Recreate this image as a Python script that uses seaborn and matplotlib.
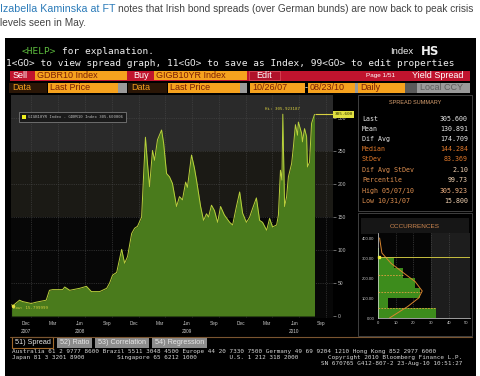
import pandas as pd
import seaborn as sns
import matplotlib.pyplot as plt
from matplotlib.patches import Rectangle
from matplotlib.transforms import blended_transform_factory

# ---- data (GIGB10YR - GDBR10, bp) ----
dates = ["2007-10-26", "2007-10-31", "2007-11-22", "2007-12-02", "2008-01-01", "2008-01-18",
         "2008-02-21", "2008-03-03", "2008-03-14", "2008-04-17", "2008-04-24", "2008-05-11",
         "2008-06-14", "2008-07-07", "2008-07-24", "2008-08-21", "2008-09-14", "2008-09-24",
         "2008-10-04", "2008-10-18", "2008-11-04", "2008-11-14", "2008-11-24", "2008-12-08",
         "2008-12-18", "2008-12-28", "2009-01-11", "2009-01-18", "2009-01-24", "2009-01-31",
         "2009-02-07", "2009-02-17", "2009-02-24", "2009-03-06", "2009-03-20", "2009-03-27",
         "2009-04-06", "2009-04-16", "2009-04-26", "2009-05-10", "2009-05-20", "2009-05-30",
         "2009-06-10", "2009-06-16", "2009-06-30", "2009-07-10", "2009-07-17", "2009-07-31",
         "2009-08-10", "2009-08-20", "2009-08-27", "2009-09-06", "2009-09-16", "2009-09-27",
         "2009-10-07", "2009-10-20", "2009-11-07", "2009-11-17", "2009-11-30", "2009-12-11",
         "2009-12-21", "2010-01-03", "2010-01-14", "2010-01-24", "2010-02-06", "2010-02-17",
         "2010-02-27", "2010-03-13", "2010-03-23", "2010-04-02", "2010-04-16", "2010-04-22",
         "2010-04-29", "2010-05-04", "2010-05-07", "2010-05-13", "2010-05-20", "2010-05-26",
         "2010-06-06", "2010-06-12", "2010-06-19", "2010-06-26", "2010-06-29", "2010-07-10",
         "2010-07-13", "2010-07-20", "2010-07-27", "2010-07-30", "2010-08-06", "2010-08-13",
         "2010-08-23"]
spread = [17, 15.8, 24, 22, 19, 21, 24, 39, 40, 40, 44, 39, 42, 45, 37, 37, 42, 50, 62, 66,
          101, 80, 90, 125, 133, 136, 150, 216, 271, 231, 196, 251, 236, 267, 282, 262, 216,
          211, 201, 166, 181, 176, 203, 195, 244, 224, 206, 166, 145, 155, 150, 168, 160, 142,
          166, 153, 142, 138, 166, 188, 156, 142, 150, 163, 179, 145, 142, 130, 148, 135, 138,
          153, 221, 206, 305.923, 166, 181, 211, 231, 256, 290, 274, 294, 277, 264, 284, 272,
          226, 233, 292, 305.6]

month_ticks = ["2007-12-15", "2008-03-15", "2008-06-15", "2008-09-15", "2008-12-15",
               "2009-03-15", "2009-06-15", "2009-09-15", "2009-12-15", "2010-03-15",
               "2010-06-15", "2010-09-15"]
month_labels = ["Dec\n2007", "Mar", "Jun\n2008", "Sep", "Dec", "Mar", "Jun\n2009", "Sep",
                "Dec", "Mar", "Jun\n2010", "Sep"]

summary_labels = ["Last", "Mean", "Dif Avg", "Median", "StDev", "Dif Avg StDev",
                  "Percentile", "High 05/07/10", "Low 10/31/07"]
summary_values = ["305.600", "130.891", "174.709", "144.284", "83.369", "2.10",
                  "99.73", "305.923", "15.800"]

# occurrences (% of days per 50bp bucket)
bin_edges = [0, 50, 100, 150, 200, 250, 300, 350]
occ_pct = [33, 5.5, 24, 21, 14, 9, 0.6]
# fitted curve as drawn on screen
curve_v = [0, 57, 100, 135, 182, 223, 273, 325, 400]
curve_pct = [6.5, 16.7, 23, 25, 21, 14.8, 7.4, 2.2, 0.9]
mean_bp, sd_bp, last_bp = 130.891, 83.369, 305.6

W, H = 480, 376
sns.set_theme(style="dark")
plt.rcParams["font.family"] = ["Liberation Sans", "DejaVu Sans"]

fig = plt.figure(figsize=(4.8, 3.76), dpi=100)
fig.patch.set_facecolor("white")


def px_axes(x0, y0, x1, y1):
    return fig.add_axes([x0 / W, 1 - y1 / H, (x1 - x0) / W, (y1 - y0) / H])


def pixel_layer():
    a = fig.add_axes([0, 0, 1, 1])
    a.set_xlim(0, W)
    a.set_ylim(H, 0)
    a.axis("off")
    a.patch.set_alpha(0)
    return a


bg = pixel_layer()


def box(a, x0, y0, x1, y1, fc, ec="none", lw=0.6):
    a.add_patch(Rectangle((x0, y0), x1 - x0, y1 - y0, facecolor=fc, edgecolor=ec, lw=lw))


def txt(a, x, y, s, size, color, ha="left", family=None, weight="normal"):
    a.text(x, y, s, fontsize=size, color=color, ha=ha, va="center",
           family=family or ["Liberation Sans", "DejaVu Sans"], weight=weight)


# blog text above the screenshot
txt(bg, 0, 8.5, "Izabella Kaminska at FT", 7.7, "#2b7bb9")
txt(bg, 117.5, 8.5, "notes that Irish bond spreads (over German bunds) are now back to peak crisis",
    7.3, "#444444")
txt(bg, 0, 22.5, "levels seen in May.", 7.3, "#444444")

# terminal
box(bg, 5, 38, 476, 376, "#000000")
mono = ["DejaVu Sans Mono"]
bg.text(22, 51.5, "<HELP>", fontsize=6.8, color="#5fbf3f", va="center", family=mono)
bg.text(62, 51.5, "for explanation.", fontsize=6.8, color="#f0f0f0", va="center", family=mono)
txt(bg, 390, 51.5, "Index", 6.8, "#f0f0f0")
txt(bg, 421, 51.5, "HS", 8.5, "#f0f0f0", family=["DejaVu Sans"], weight="bold")
bg.text(6, 63.5, "1<GO> to view spread graph, 11<GO> to save as Index, 99<GO> to edit properties",
        fontsize=6.8, color="#f0f0f0", va="center", family=mono)

red, amber, dark_txt = "#c0142e", "#f6a21e", "#7a1e05"
box(bg, 10, 70.5, 470, 80.5, red)
txt(bg, 13, 75.5, "Sell", 6.5, "white")
box(bg, 35, 71, 127, 80, amber)
txt(bg, 37, 75.5, "GDBR10 Index", 6.5, dark_txt)
txt(bg, 133, 75.5, "Buy", 6.5, "white")
box(bg, 154, 71, 247, 80, amber)
txt(bg, 156, 75.5, "GIGB10YR Index", 6.5, dark_txt)
box(bg, 249, 71, 280, 80, "#b0122a", ec="#e05060", lw=0.5)
txt(bg, 264.5, 75.5, "Edit", 6.5, "white", ha="center")
txt(bg, 366, 75.5, "Page 1/51", 4.6, "white")
txt(bg, 463, 75.5, "Yield Spread", 6.5, "white", ha="right")

box(bg, 9, 83, 47, 93, "#2a1606")
txt(bg, 12, 88, "Data", 6.5, amber)
box(bg, 48, 83, 118, 93, amber)
txt(bg, 50, 88, "Last Price", 6.5, dark_txt)
box(bg, 118, 83, 127, 93, "#9a9a9a")
box(bg, 128, 83, 167, 93, "#2a1606")
txt(bg, 131, 88, "Data", 6.5, amber)
box(bg, 168, 83, 240, 93, amber)
txt(bg, 170, 88, "Last Price", 6.5, dark_txt)
box(bg, 240, 83, 247, 93, "#9a9a9a")
box(bg, 250, 83, 305, 93, amber)
txt(bg, 252, 88, "10/26/07", 6.5, dark_txt)
txt(bg, 306.5, 88, "-", 6.5, "white", ha="center")
box(bg, 308, 83, 355, 93, amber)
txt(bg, 310, 88, "08/23/10", 6.5, dark_txt)
box(bg, 355, 83, 358, 93, "#9a9a9a")
box(bg, 358, 83, 405, 93, amber)
txt(bg, 360, 88, "Daily", 6.5, dark_txt)
box(bg, 405, 83, 417, 93, "#5a5a5a")
box(bg, 417, 83, 470, 93, "#9a9a9a")
txt(bg, 420, 88, "Local CCY", 6.5, "#5c5c5c")

# right panels
box(bg, 358, 94.5, 472, 211, "#000000", ec="#4a4a4a", lw=0.6)
txt(bg, 415, 103, "SPREAD SUMMARY", 4.0, "#d8a070", ha="center")
row_y = [119, 129, 139, 149, 159, 170, 180, 191, 201]
lab_col = ["#e8e8e8", "#e8e8e8", "#e8e8e8", "#e0782a", "#e0782a",
           "#e09050", "#e09050", "#e09050", "#e09050"]
val_col = ["#e8e8e8", "#e8e8e8", "#e8e8e8", "#e0782a", "#e0782a",
           "#f0d0b0", "#f0d0b0", "#f0b080", "#f0d0b0"]
for yy, lab, val, c1, c2 in zip(row_y, summary_labels, summary_values, lab_col, val_col):
    bg.text(362, yy, lab, fontsize=4.8, color=c1, va="center", family=mono)
    bg.text(468, yy, val, fontsize=4.8, color=c2, va="center", ha="right", family=mono)

box(bg, 358, 213, 472, 336, "#000000", ec="#4a4a4a", lw=0.6)
box(bg, 361, 218, 469, 234, "#161616")
txt(bg, 415, 226, "OCCURRENCES", 4.6, "#d08850", ha="center")

# tabs + footer
bg.plot([10, 472], [336.5, 336.5], color="#7a5530", lw=0.8)
box(bg, 12, 337, 53, 348, "#000000", ec="#a0682a", lw=0.8)
txt(bg, 32.5, 342.5, "51) Spread", 5.2, "#e6e6e6", ha="center")
for x0, x1, s in [(57, 92, "52) Ratio"), (95, 149, "53) Correlation"),
                  (152, 207, "54) Regression")]:
    box(bg, x0, 337.5, x1, 348, "#8c8c8c")
    txt(bg, (x0 + x1) / 2, 342.5, s, 5.2, "#e6e6e6", ha="center")

foot = dict(fontsize=4.3, color="#d6d6d6", va="center", family=mono)
bg.text(12, 352, "Australia 61 2 9777 8600 Brazil 5511 3048 4500 Europe 44 20 7330 7500 "
        "Germany 49 69 9204 1210 Hong Kong 852 2977 6000", **foot)
bg.text(12, 357.5, "Japan 81 3 3201 8900         Singapore 65 6212 1000         "
        "U.S. 1 212 318 2000", **foot)
bg.text(462, 357.5, "Copyright 2010 Bloomberg Finance L.P.", ha="right", **foot)
bg.text(462, 363, "SN 670765 G412-807-2 23-Aug-10 10:51:27", ha="right", **foot)

# ---- main spread chart ----
df = pd.DataFrame({"date": pd.to_datetime(dates), "spread": spread})
ax = px_axes(11, 95, 333, 318)
ax.set_facecolor("#070707")
ax.set_ylim(-3, 335)
ax.set_xlim(pd.Timestamp("2007-10-24"), pd.Timestamp("2010-10-25"))
ax.axhspan(250, 335, color="#2a2a2a", lw=0, zorder=0)
ax.axhspan(150, 250, color="#1b1a15", lw=0, zorder=0)
for v in range(50, 301, 50):
    ax.axhline(v, color="#4a4a4a", lw=0.4, ls=(0, (2, 2)), zorder=1)
for q in pd.date_range("2008-01-01", "2010-10-01", freq="QS"):
    ax.axvline(q, color="#4a4a4a", lw=0.4, ls=(0, (2, 2)), zorder=1)

ax.fill_between(df["date"], 0, df["spread"], color="#4a7b1c", lw=0, zorder=2)
sns.lineplot(data=df, x="date", y="spread", ax=ax, color="#b9d03c", lw=0.7, zorder=3)

last_date = df["date"].iloc[-1]
ax.hlines(df["spread"].iloc[-1], last_date, ax.get_xlim()[1], color="#d8d040", lw=0.8, zorder=3)
hi = df["spread"].idxmax()
ax.text(df["date"][hi], df["spread"][hi] + 5, "Hi: 305.923187", fontsize=3.0,
        color="#d8d040", ha="center", va="bottom", family=mono)
lo = df["spread"].idxmin()
ax.plot(df["date"][lo], df["spread"][lo], "o", ms=1.5, color="#e8e040", zorder=4)
ax.text(df["date"][0] + pd.Timedelta(days=6), df["spread"][lo] - 4, "Low: 15.799999",
        fontsize=3.0, color="#d8d040", va="center", family=mono, zorder=4)

ax.yaxis.tick_right()
ax.set_yticks(range(0, 301, 50))
ax.set_xticks(pd.to_datetime(month_ticks))
ax.set_xticklabels(month_labels, linespacing=1.9)
ax.set_xticks(pd.date_range("2007-11-01", "2010-10-01", freq="MS"), minor=True)
ax.tick_params(axis="y", labelsize=3.6, colors="#bbbbbb", length=2, width=0.4, pad=1.5)
ax.tick_params(axis="x", which="major", labelsize=3.4, colors="#cccccc", length=0, pad=2)
ax.tick_params(axis="x", which="minor", length=1.2, width=0.4, color="#888888")
ax.set_xlabel("")
ax.set_ylabel("")
for s in ax.spines.values():
    s.set_visible(False)

tag = blended_transform_factory(ax.transAxes, ax.transData)
ax.text(1.005, df["spread"].iloc[-1], "305.600", transform=tag, fontsize=3.2, color="#303000",
        va="center", ha="left", family=mono,
        bbox=dict(boxstyle="square,pad=0.25", fc="#e0e040", ec="none"), clip_on=False)

# ---- occurrences histogram ----
hx = px_axes(378, 233, 470, 318)
hx.set_facecolor("#050505")
bin_mid = [(a + b) / 2 for a, b in zip(bin_edges[:-1], bin_edges[1:])]
sns.histplot(y=bin_mid, weights=occ_pct, bins=bin_edges, ax=hx, color="#3d8c1c",
             alpha=1, linewidth=0, zorder=2)
for p in hx.patches:
    p.set_edgecolor("none")
    p.set_facecolor("#3d8c1c")
hx.axvspan(30, 52, color="#1d1d1d", lw=0, zorder=0)
for v in range(10, 50, 10):
    hx.axvline(v, color="#555555", lw=0.4, ls=(0, (2, 2)), zorder=1)
for lvl in [mean_bp - sd_bp, mean_bp, mean_bp + sd_bp]:
    k = int(lvl // 50)
    hx.hlines(lvl, 0, occ_pct[k], colors="#e0a040", linestyles=(0, (2, 1.5)), lw=0.6, zorder=3)
hx.plot(curve_pct, curve_v, color="#d9862e", lw=0.7, zorder=4)
hx.axhline(last_bp, color="#c8c040", lw=0.7, zorder=4)
hx.plot(0.6, last_bp, "s", ms=2, color="#f0f040", zorder=5, clip_on=False)
hx.set_xlim(0, 52)
hx.set_ylim(0, 425)
hx.set_yticks([0, 100, 200, 300, 400])
hx.set_yticklabels(["0.00", "100.00", "200.00", "300.00", "400.00"])
hx.set_xticks(range(0, 51, 10))
hx.set_xticks(range(0, 52, 2), minor=True)
hx.tick_params(axis="both", labelsize=3.0, colors="#cccccc", length=1.5, width=0.4, pad=1)
hx.tick_params(axis="x", which="minor", length=1.0, width=0.4, color="#aaaaaa")
hx.set_xlabel("")
hx.set_ylabel("")
for name, s in hx.spines.items():
    s.set_visible(name in ("left", "bottom"))
    s.set_color("#dddddd")
    s.set_linewidth(0.5)

# legend box on top of the chart
fg = pixel_layer()
box(fg, 19, 112, 126, 122, "#1a1a1a", ec="#8a8a8a", lw=0.5)
box(fg, 22, 115, 26, 119, "#f0f020")
fg.text(28, 117, "GIGB10YR Index - GDBR10 Index 305.600006", fontsize=2.9, color="#bbbbbb",
        va="center", family=mono)

fig.savefig("out.png", dpi=100)
